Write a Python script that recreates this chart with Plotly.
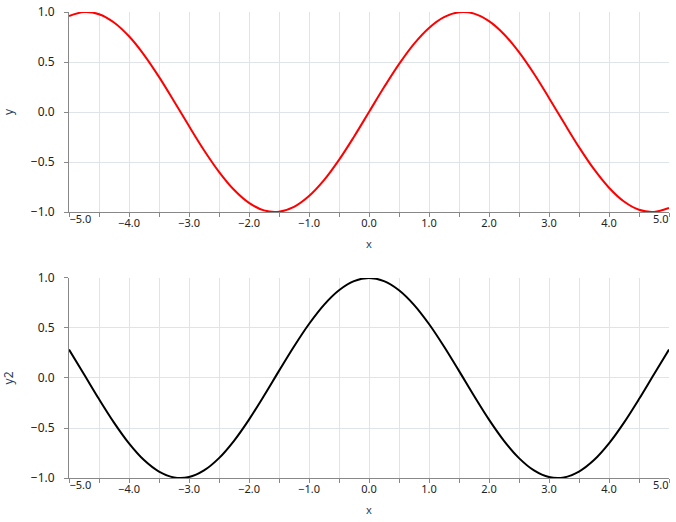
import plotly.graph_objects as go

X = [-5.0, -4.75, -4.5, -4.25, -4.0, -3.75, -3.5, -3.25, -3.0, -2.75, -2.5,
     -2.25, -2.0, -1.75, -1.5, -1.25, -1.0, -0.75, -0.5, -0.25, 0.0,
     0.25, 0.5, 0.75, 1.0, 1.25, 1.5, 1.75, 2.0, 2.25, 2.5,
     2.75, 3.0, 3.25, 3.5, 3.75, 4.0, 4.25, 4.5, 4.75, 5.0]
Y_TOP = [0.959, 0.999, 0.978, 0.895, 0.757, 0.572, 0.351, 0.108, -0.141, -0.382, -0.598,
         -0.778, -0.909, -0.984, -0.997, -0.949, -0.841, -0.682, -0.479, -0.247, 0.0,
         0.247, 0.479, 0.682, 0.841, 0.949, 0.997, 0.984, 0.909, 0.778, 0.598,
         0.382, 0.141, -0.108, -0.351, -0.572, -0.757, -0.895, -0.978, -0.999, -0.959]
Y_BOTTOM = [0.284, 0.038, -0.211, -0.446, -0.654, -0.821, -0.936, -0.994, -0.990, -0.924, -0.801,
            -0.628, -0.416, -0.178, 0.071, 0.315, 0.540, 0.732, 0.878, 0.969, 1.0,
            0.969, 0.878, 0.732, 0.540, 0.315, 0.071, -0.178, -0.416, -0.628, -0.801,
            -0.924, -0.990, -0.994, -0.936, -0.821, -0.654, -0.446, -0.211, 0.038, 0.284]

X_TICKS = [-5.0, -4.0, -3.0, -2.0, -1.0, 0.0, 1.0, 2.0, 3.0, 4.0, 5.0]
X_LABELS = ['−5.0', '−4.0', '−3.0', '−2.0', '−1.0', '0.0', '1.0', '2.0', '3.0', '4.0', '5.0']
Y_TICKS = [-1.0, -0.5, 0.0, 0.5, 1.0]
Y_LABELS = ['−1.0', '−0.5', '0.0', '0.5', '1.0']

FONT = 'Noto Sans'
GRID = '#dfe3ea'
AXIS = '#888888'
LABEL = '#222222'
TITLE = '#2a3f5f'

fig = go.Figure()
fig.add_trace(go.Scatter(x=X, y=Y_TOP, mode='lines', line=dict(color='red', width=2, shape='spline'),
                         xaxis='x', yaxis='y', showlegend=False))
fig.add_trace(go.Scatter(x=X, y=Y_BOTTOM, mode='lines', line=dict(color='black', width=2, shape='spline'),
                         xaxis='x2', yaxis='y2', showlegend=False))
# empty traces so the overlay axes with the flush end labels get drawn
for xa, ya in (('x3', 'y'), ('x4', 'y'), ('x5', 'y2'), ('x6', 'y2')):
    fig.add_trace(go.Scatter(x=[], y=[], xaxis=xa, yaxis=ya, showlegend=False, hoverinfo='skip'))

xfont = dict(family=FONT, size=11, color=LABEL)
xcommon = dict(range=[-5, 5], tickvals=X_TICKS[1:-1], ticktext=X_LABELS[1:-1],
               ticks='outside', ticklen=4, tickcolor=AXIS, showline=True, linecolor=AXIS,
               showgrid=True, gridcolor=GRID, zeroline=False, automargin=False,
               ticklabelstandoff=-3,
               minor=dict(dtick=0.5, tick0=0, ticks='outside', ticklen=4, tickcolor=AXIS,
                          showgrid=True, gridcolor=GRID),
               tickfont=xfont,
               title=dict(text='x', font=dict(family=FONT, size=11, color=TITLE), standoff=11))
ycommon = dict(range=[-1, 1], tickvals=Y_TICKS, ticktext=Y_LABELS,
               ticks='outside', ticklen=4, tickcolor=AXIS, showline=True, linecolor=AXIS,
               showgrid=True, gridcolor=GRID, zeroline=False, automargin=False,
               ticklabelstandoff=7, ticklabeloverflow='allow',
               tickfont=dict(family=FONT, size=12, color=LABEL))


def flush_axis(val, lab, side, anchor, over):
    return dict(range=[-5, 5], tickvals=[val], ticktext=[lab], overlaying=over, anchor=anchor,
                ticks='outside', ticklen=4, tickcolor=AXIS, ticklabelposition='outside ' + side,
                ticklabelstandoff=-3, ticklabeloverflow='allow', showgrid=False, showline=False,
                zeroline=False, automargin=False, tickfont=xfont)


fig.update_layout(
    width=676, height=522,
    margin=dict(l=69, r=7, t=12, b=44),
    plot_bgcolor='white', paper_bgcolor='white',
    xaxis=dict(xcommon, domain=[0, 1], anchor='y'),
    yaxis=dict(ycommon, domain=[0.5708, 1], anchor='x',
               title=dict(text='y', font=dict(family=FONT, size=12, color=TITLE), standoff=30)),
    xaxis2=dict(xcommon, domain=[0, 1], anchor='y2'),
    yaxis2=dict(ycommon, domain=[0, 0.4292], anchor='x2',
                title=dict(text='y2', font=dict(family=FONT, size=12, color=TITLE), standoff=30)),
    xaxis3=flush_axis(X_TICKS[0], X_LABELS[0], 'right', 'y', 'x'),
    xaxis4=flush_axis(X_TICKS[-1], X_LABELS[-1], 'left', 'y', 'x'),
    xaxis5=flush_axis(X_TICKS[0], X_LABELS[0], 'right', 'y2', 'x2'),
    xaxis6=flush_axis(X_TICKS[-1], X_LABELS[-1], 'left', 'y2', 'x2'),
)

# drop the page's default 8px body margin so the figure sits at the window corner
fig.write_html('out.html', config={'displayModeBar': False},
               post_script="document.body.style.margin = '0';")
